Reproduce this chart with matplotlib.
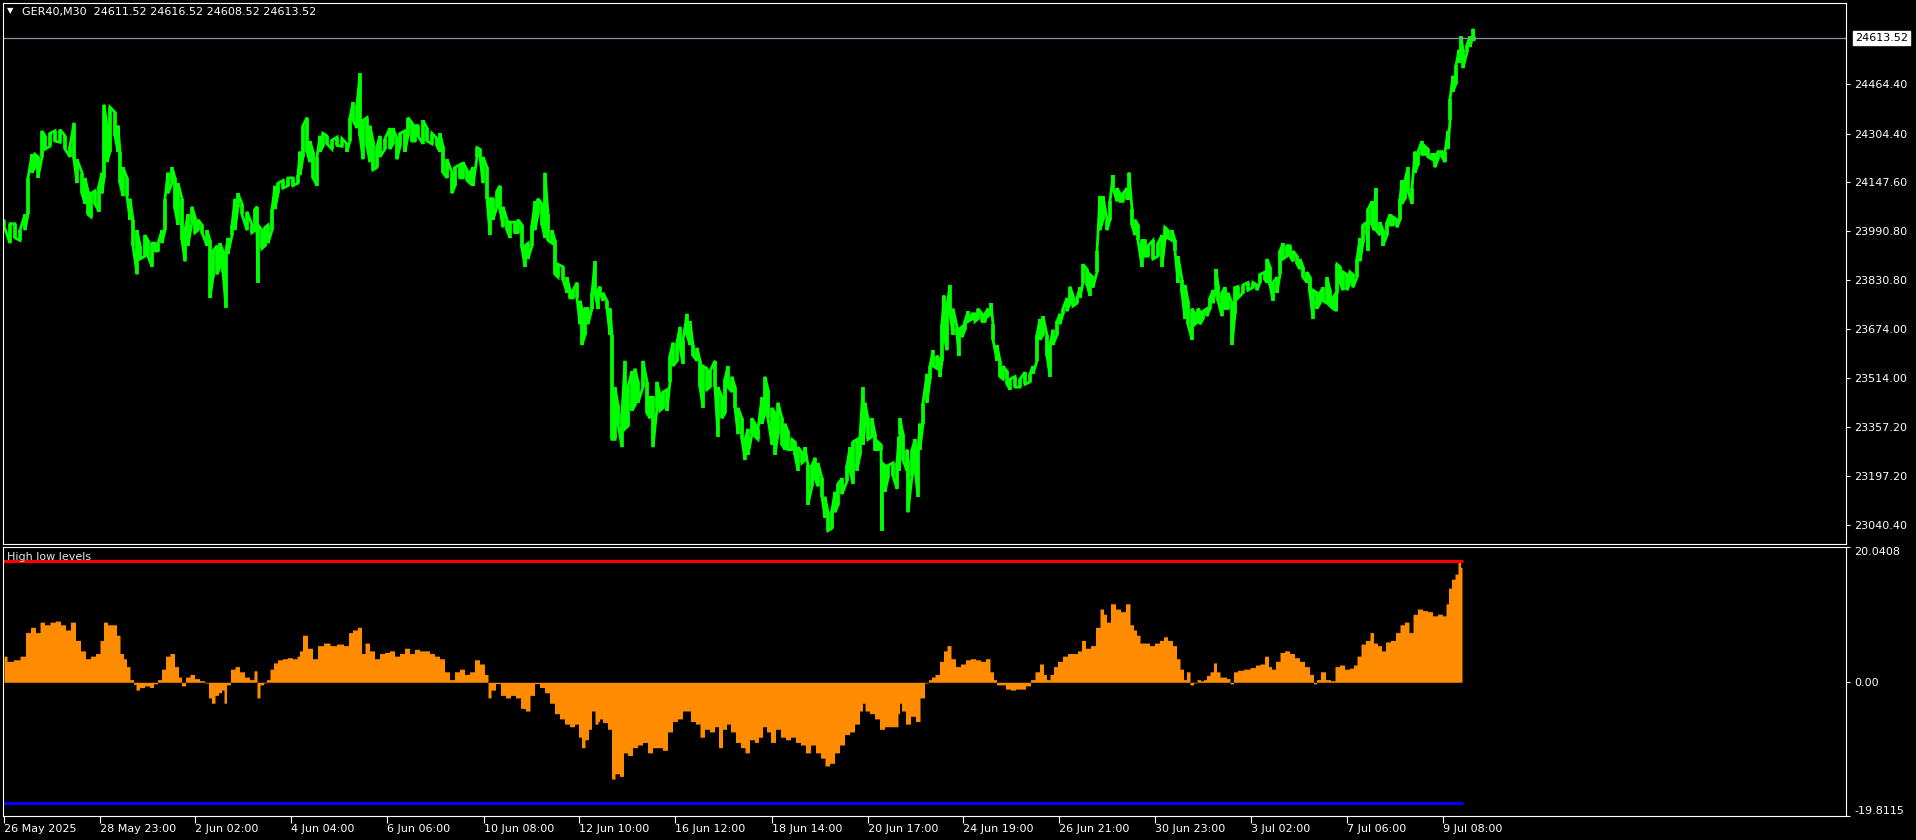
import numpy as np
import matplotlib
matplotlib.use("Agg")
import matplotlib.pyplot as plt

# GER40 M30 bars: bar number (1 bar = 1 px), high, low
bar_no = [0, 6, 11, 16, 21, 24, 28, 31, 34, 38, 41, 46, 51, 56, 61, 66, 70, 73, 78, 81,
          84, 87, 91, 95, 98, 100, 103, 106, 111, 114, 116, 119, 123, 126, 129, 133, 136, 141, 144, 148,
          151, 154, 158, 161, 164, 168, 171, 174, 178, 181, 184, 188, 191, 194, 198, 203, 206, 209, 213, 216,
          219, 222, 224, 228, 231, 234, 238, 243, 248, 251, 253, 254, 258, 261, 264, 268, 271, 274, 279, 284,
          289, 294,
          296, 299, 303, 306, 309, 313, 316, 319, 323, 328, 333, 338, 343, 346, 349, 353, 356, 359, 363, 366,
          369, 373, 376, 381, 386, 389, 393, 396, 401, 404, 408, 411, 414, 419, 423, 428, 433, 436, 439, 443,
          448, 451, 456, 459, 463, 466, 469, 473, 476, 479, 483, 486, 489, 493, 496, 499, 503, 506, 511, 514,
          518, 521, 524, 528, 531, 534, 538, 541, 544, 548, 551, 554, 559, 563, 566, 569, 573, 576, 578, 581,
          584, 588, 591, 594,
          596, 599, 603, 606, 608, 611, 614, 618, 621, 624, 628, 631, 634, 639, 643, 646, 649, 653, 656, 659,
          663, 666, 669, 673, 676, 679, 683, 686, 689, 693, 696, 699, 703, 706, 711, 714, 718, 721, 724, 728,
          731, 734, 738, 741, 744, 748, 751, 754, 758, 761, 764, 768, 771, 774, 778, 781, 784, 788, 791, 794,
          798, 801, 804, 808, 811, 814, 818, 821, 824, 828, 831, 834, 838, 843, 846, 849, 853, 856, 859, 861,
          864, 868, 871, 874, 877, 878, 881, 884, 889, 893, 895,
          896, 899, 903, 904, 908, 911, 914, 916, 919, 923, 926, 929, 933, 936, 938, 940, 943, 946, 949, 953,
          955, 958, 961, 964, 968, 971, 974, 978, 981, 984, 987, 989, 993, 996, 999, 1003, 1006, 1011, 1016, 1021,
          1026, 1029, 1033, 1036, 1039, 1043, 1046, 1049, 1053, 1056, 1059, 1063, 1066, 1069, 1073, 1076, 1079, 1083, 1086, 1089,
          1093, 1096, 1099, 1103, 1106, 1109, 1113, 1116, 1119, 1123, 1125, 1128, 1131, 1134, 1138, 1141, 1144, 1149, 1154, 1158,
          1161, 1164, 1168, 1171, 1174, 1178, 1181, 1184, 1188, 1191, 1194,
          1196, 1199, 1203, 1206, 1209, 1212, 1214, 1218, 1221, 1224, 1228, 1231, 1234, 1239, 1244, 1249, 1253, 1256, 1261, 1263,
          1266, 1269, 1273, 1276, 1279, 1283, 1286, 1289, 1293, 1296, 1299, 1303, 1306, 1309, 1313, 1316, 1319, 1323, 1326, 1329,
          1332, 1333, 1336, 1339, 1343, 1346, 1349, 1353, 1356, 1359, 1363, 1364, 1368, 1370, 1372, 1376, 1379, 1383, 1386, 1389,
          1393, 1396, 1398, 1401, 1404, 1408, 1411, 1414, 1418, 1421, 1424, 1428, 1431, 1434, 1438, 1441, 1444, 1446, 1449, 1452,
          1455, 1457, 1459, 1463, 1466, 1469, 1470]

price_high = [24024, 24014, 24014, 23993, 24044, 24162, 24238, 24238, 24230, 24314, 24298, 24306, 24314, 24318, 24298, 24264, 24340, 24222, 24179, 24162,
              24120, 24112, 24120, 24137, 24179, 24399, 24331, 24391, 24374, 24331, 24247, 24196, 24162, 24095, 24027, 23993, 23943, 23977, 23960, 23951,
              23951, 23951, 23993, 24095, 24179, 24196, 24162, 24145, 24095, 23993, 24044, 24069, 24036, 24027, 24010, 23993, 23960, 23926, 23943, 23951,
              23926, 23926, 23968, 24010, 24095, 24112, 24078, 24053, 24010, 24061, 24069, 24010, 23993, 24002, 24010, 24061, 24137, 24145, 24154, 24162,
              24162, 24171,
              24247, 24331, 24357, 24281, 24247, 24230, 24298, 24306, 24298, 24284, 24294, 24289, 24272, 24357, 24407, 24399, 24500, 24348, 24357, 24331,
              24281, 24264, 24298, 24289, 24323, 24323, 24289, 24306, 24314, 24357, 24340, 24331, 24331, 24348, 24323, 24306, 24289, 24306, 24264, 24222,
              24179, 24196, 24205, 24213, 24188, 24179, 24196, 24260, 24255, 24230, 24196, 24095, 24095, 24120, 24137, 24069, 24027, 24019, 24019, 24027,
              24010, 23943, 23951, 24010, 24086, 24095, 24078, 24179, 24044, 23993, 23960, 23883, 23875, 23841, 23799, 23799, 23824, 23765, 23740, 23740,
              23740, 23791, 23892, 23799,
              23811, 23791, 23765, 23740, 23655, 23486, 23427, 23402, 23571, 23486, 23537, 23546, 23503, 23571, 23503, 23453, 23453, 23503, 23461, 23470,
              23478, 23588, 23630, 23630, 23681, 23639, 23723, 23698, 23622, 23613, 23571, 23554, 23546, 23537, 23571, 23486, 23453, 23512, 23554, 23520,
              23486, 23419, 23385, 23317, 23351, 23385, 23368, 23351, 23453, 23520, 23478, 23419, 23402, 23436, 23385, 23368, 23343, 23317, 23309, 23292,
              23275, 23292, 23233, 23233, 23258, 23241, 23191, 23132, 23081, 23089, 23148, 23174, 23191, 23233, 23292, 23309, 23317, 23326, 23486, 23436,
              23385, 23385, 23334, 23309, 23300, 23241, 23233, 23233, 23241, 23241, 23326,
              23385, 23334, 23284, 23250, 23284, 23317, 23284, 23368, 23436, 23529, 23554, 23605, 23588, 23571, 23689, 23782, 23748, 23816, 23740, 23681,
              23672, 23681, 23698, 23731, 23723, 23723, 23740, 23723, 23723, 23740, 23757, 23689, 23622, 23571, 23554, 23537, 23512, 23520, 23512, 23534,
              23529, 23554, 23655, 23706, 23715, 23655, 23622, 23672, 23698, 23723, 23740, 23774, 23811, 23782, 23774, 23808, 23883, 23867, 23850, 23841,
              23926, 24103, 24103, 24027, 24086, 24171, 24129, 24112, 24112, 24129, 24179, 24061, 24027, 24010, 23960, 23960, 23943, 23960, 23951, 23977,
              24002, 23993, 23993, 23960, 23909, 23833, 23816, 23765, 23740, 23723, 23740,
              23731, 23731, 23740, 23774, 23799, 23867, 23816, 23791, 23808, 23791, 23757, 23808, 23811, 23816, 23824, 23824, 23816, 23850, 23858, 23900,
              23875, 23824, 23841, 23926, 23951, 23943, 23943, 23926, 23909, 23900, 23875, 23858, 23841, 23799, 23791, 23791, 23808, 23841, 23799, 23774,
              23791, 23883, 23875, 23858, 23850, 23858, 23850, 23900, 23968, 24010, 24019, 24061, 24086, 24044, 24129, 24019, 23993, 24019, 24044, 24036,
              24027, 24095, 24154, 24154, 24196, 24129, 24247, 24247, 24281, 24264, 24255, 24238, 24238, 24247, 24247, 24247, 24314, 24416, 24492, 24526,
              24576, 24619, 24576, 24593, 24619, 24644, 24617]

price_low = [24007, 23951, 23968, 23960, 23993, 24044, 24179, 24196, 24162, 24230, 24255, 24264, 24281, 24277, 24255, 24230, 24222, 24145, 24112, 24078,
             24044, 24036, 24078, 24053, 24112, 24162, 24213, 24247, 24298, 24247, 24145, 24103, 24103, 24027, 23943, 23850, 23900, 23909, 23909, 23875,
             23926, 23926, 23951, 23993, 24112, 24145, 24061, 24010, 23960, 23892, 23943, 24019, 23985, 23993, 23985, 23943, 23774, 23841, 23850, 23875,
             23858, 23743, 23917, 23977, 23993, 24069, 24044, 23993, 23985, 23993, 23993, 23824, 23934, 23943, 23951, 23993, 24061, 24112, 24129, 24137,
             24137, 24145,
             24171, 24230, 24247, 24213, 24162, 24137, 24247, 24264, 24272, 24255, 24267, 24264, 24247, 24281, 24348, 24323, 24298, 24222, 24264, 24213,
             24188, 24196, 24230, 24255, 24255, 24272, 24222, 24264, 24247, 24298, 24281, 24281, 24298, 24272, 24281, 24272, 24264, 24247, 24179, 24162,
             24112, 24137, 24162, 24162, 24154, 24145, 24137, 24230, 24230, 24145, 24095, 23977, 24027, 24069, 24061, 24002, 23993, 23968, 23985, 23985,
             23934, 23875, 23900, 23943, 23993, 24044, 24010, 23968, 23960, 23951, 23850, 23841, 23833, 23791, 23774, 23774, 23774, 23689, 23622, 23655,
             23689, 23740, 23791, 23740,
             23791, 23765, 23740, 23655, 23317, 23317, 23368, 23292, 23351, 23360, 23410, 23427, 23436, 23486, 23402, 23385, 23292, 23419, 23410, 23419,
             23410, 23503, 23554, 23571, 23613, 23562, 23655, 23622, 23588, 23571, 23486, 23419, 23478, 23486, 23486, 23326, 23385, 23402, 23486, 23470,
             23419, 23334, 23317, 23250, 23267, 23334, 23326, 23317, 23368, 23402, 23385, 23300, 23267, 23334, 23300, 23284, 23284, 23284, 23267, 23216,
             23241, 23250, 23106, 23165, 23191, 23165, 23132, 23064, 23022, 23030, 23081, 23106, 23140, 23182, 23216, 23174, 23216, 23267, 23300, 23368,
             23317, 23326, 23284, 23284, 23284, 23022, 23148, 23191, 23199, 23157, 23216,
             23334, 23250, 23216, 23081, 23199, 23224, 23132, 23284, 23368, 23436, 23512, 23554, 23546, 23520, 23571, 23655, 23605, 23723, 23655, 23655,
             23588, 23647, 23672, 23698, 23706, 23698, 23706, 23698, 23698, 23715, 23723, 23639, 23571, 23520, 23512, 23495, 23478, 23486, 23486, 23495,
             23503, 23529, 23571, 23639, 23655, 23588, 23520, 23622, 23655, 23689, 23723, 23731, 23757, 23748, 23757, 23774, 23824, 23816, 23782, 23808,
             23858, 23993, 24027, 23993, 24027, 24129, 24086, 24086, 24086, 24095, 24095, 24010, 23977, 23960, 23875, 23909, 23909, 23900, 23909, 23875,
             23960, 23968, 23960, 23926, 23824, 23791, 23706, 23689, 23639, 23689, 23698,
             23689, 23706, 23715, 23740, 23757, 23808, 23765, 23715, 23740, 23740, 23622, 23723, 23774, 23791, 23799, 23808, 23799, 23824, 23833, 23824,
             23816, 23765, 23791, 23850, 23900, 23909, 23909, 23892, 23883, 23867, 23841, 23824, 23791, 23706, 23740, 23757, 23765, 23757, 23748, 23740,
             23731, 23791, 23824, 23799, 23799, 23824, 23808, 23841, 23892, 23951, 23977, 23926, 24010, 23993, 23993, 23977, 23943, 23977, 24010, 24010,
             24002, 24027, 24078, 24095, 24120, 24078, 24179, 24205, 24238, 24238, 24230, 24222, 24196, 24222, 24230, 24213, 24255, 24348, 24441, 24467,
             24534, 24551, 24517, 24568, 24585, 24619, 24609]

last_close = 24613.52
ohlc_text = "GER40,M30  24611.52 24616.52 24608.52 24613.52"
price_ticks = [24464.40, 24304.40, 24147.60, 23990.80, 23830.80, 23674.00,
               23514.00, 23357.20, 23197.20, 23040.40]

# "High low levels" indicator histogram
ind_bar = [0, 6, 13, 19, 24, 29, 34, 38, 43, 49, 54, 59, 64, 69, 74, 79, 84, 89, 94, 98,
           101, 106, 111, 114, 118, 121, 124, 128, 131, 133, 138, 143, 148, 151, 156, 159, 164, 168, 173, 176,
           179, 184, 188, 193, 198, 203, 206, 209, 213, 216, 219, 221, 224, 229, 233, 238, 243, 248, 252, 254,
           258, 261, 264, 268, 271, 276, 281, 286, 291, 295,
           296, 301, 306, 311, 316, 323, 329, 336, 343, 346, 351, 356, 359, 363, 368, 373, 378, 383, 388, 393,
           398, 403, 408, 413, 418, 423, 428, 433, 438, 443, 448, 453, 458, 463, 468, 473, 478, 483, 485, 489,
           494, 499, 504, 509, 514, 519, 524, 528, 533, 538, 543, 548, 553, 558, 563, 568, 573, 576, 579, 583,
           586, 589, 593, 595,
           596, 601, 606, 609, 613, 618, 621, 626, 631, 636, 641, 646, 651, 656, 661, 666, 671, 676, 681, 684,
           689, 694, 698, 703, 708, 713, 716, 721, 724, 729, 734, 739, 743, 748, 753, 756, 761, 764, 769, 774,
           779, 784, 789, 794, 799, 804, 809, 814, 819, 823, 828, 833, 838, 843, 848, 853, 858, 859, 863, 868,
           873, 878, 883, 888, 893, 895,
           896, 899, 904, 909, 914, 918, 923, 926, 929, 933, 938, 941, 945, 949, 954, 959, 964, 969, 974, 979,
           984, 988, 991, 994, 999, 1004, 1009, 1014, 1019, 1024, 1029, 1033, 1038, 1041, 1044, 1048, 1051, 1056, 1061, 1066,
           1071, 1076, 1079, 1084, 1089, 1094, 1098, 1101, 1104, 1109, 1114, 1119, 1124, 1128, 1131, 1134, 1138, 1143, 1148, 1153,
           1158, 1161, 1166, 1171, 1174, 1178, 1181, 1184, 1188, 1191, 1195,
           1198, 1201, 1204, 1208, 1211, 1214, 1218, 1221, 1224, 1228, 1231, 1236, 1243, 1249, 1254, 1258, 1263, 1266, 1269, 1274,
           1278, 1283, 1288, 1293, 1298, 1303, 1308, 1311, 1314, 1319, 1324, 1329, 1333, 1338, 1343, 1348, 1351, 1355, 1359, 1364,
           1368, 1371, 1376, 1379, 1384, 1389, 1394, 1398, 1403, 1407, 1411, 1416, 1421, 1426, 1431, 1436, 1441, 1443, 1446, 1449,
           1453, 1455, 1458]

ind_val = [3.87, 3.10, 3.33, 3.87, 7.36, 8.14, 7.36, 8.91, 8.52, 8.91, 9.07, 8.52, 7.75, 8.91, 6.20, 4.65, 3.49, 3.87, 4.26, 6.20,
           8.91, 8.52, 8.52, 6.97, 4.26, 3.49, 2.32, 0.39, -0.30, -1.16, -0.77, -0.54, -0.77, -0.23, 0.39, 1.94, 3.87, 4.26, 2.32, 0.77,
           -0.54, 0.77, 1.16, 0.54, 0.23, -0.10, -2.32, -3.10, -1.94, -1.55, -1.16, -3.10, -0.39, 1.94, 2.32, 1.55, 0.77, 0.39, 1.70, -2.32,
           -0.39, -0.10, 0.39, 1.94, 2.87, 3.33, 3.49, 3.64, 3.49, 3.87,
           4.65, 6.97, 5.04, 3.49, 5.43, 5.81, 5.43, 5.66, 5.43, 7.36, 7.75, 8.14, 4.26, 5.81, 4.65, 3.49, 4.26, 4.42, 4.65, 3.87,
           4.26, 5.04, 4.26, 4.88, 4.65, 4.65, 4.26, 3.87, 3.49, 1.55, 0.39, 1.55, 1.94, 1.16, 1.55, 3.33, 2.71, 1.16, -2.32, -1.16,
           -0.20, -1.94, -2.32, -1.94, -2.32, -3.87, -4.26, -1.94, -0.20, -0.77, -1.55, -3.10, -4.65, -5.43, -6.20, -6.59, -6.20, -8.14, -9.69, -8.52,
           -6.97, -4.26, -6.20, -5.81,
           -5.43, -5.97, -6.97, -14.34, -13.56, -13.95, -10.46, -10.85, -9.69, -9.30, -8.91, -10.46, -9.69, -9.69, -10.08, -7.36, -5.81, -5.43, -4.26, -4.26,
           -5.81, -6.20, -8.14, -6.97, -7.36, -6.59, -9.69, -6.97, -6.20, -7.36, -8.91, -9.69, -10.46, -8.52, -8.91, -8.14, -6.59, -7.36, -8.91, -6.97,
           -8.14, -8.52, -8.14, -8.91, -9.30, -10.46, -9.30, -10.46, -11.24, -12.40, -12.01, -10.46, -9.30, -7.75, -7.36, -6.20, -4.26, -3.10, -4.26, -4.65,
           -5.43, -6.97, -6.59, -6.59, -6.59, -4.65,
           -3.10, -4.26, -6.20, -5.04, -5.81, -2.32, -0.10, 0.39, 0.77, 1.16, 3.10, 4.65, 5.43, 3.49, 2.32, 2.71, 3.33, 3.49, 3.33, 3.10,
           3.49, 1.55, 0.39, -0.39, -0.39, -1.01, -1.16, -1.01, -1.01, -0.54, 0.39, 1.55, 2.71, 1.16, 0.39, 1.16, 2.32, 3.10, 3.87, 4.26,
           4.26, 4.65, 6.20, 5.04, 5.43, 8.14, 10.85, 10.08, 8.91, 11.63, 10.85, 10.46, 11.63, 8.52, 7.75, 6.97, 5.81, 5.81, 5.43, 5.81,
           6.20, 6.74, 6.20, 5.43, 3.49, 1.94, 0.39, 1.55, -0.39, -0.10, 0.39,
           0.23, 0.39, 1.01, 1.55, 2.87, 1.55, 0.77, 0.77, 0.54, -0.23, 1.55, 1.78, 1.94, 2.17, 2.56, 2.71, 3.87, 2.32, 1.94, 3.10,
           4.42, 4.65, 4.26, 3.64, 3.10, 2.32, 1.16, -0.23, 0.39, 1.55, 0.39, 0.23, 2.32, 2.56, 1.94, 2.09, 2.56, 3.87, 5.66, 6.20,
           7.36, 5.81, 5.43, 4.65, 5.97, 6.20, 7.36, 8.52, 8.91, 7.36, 10.08, 10.85, 10.62, 10.46, 9.84, 10.08, 9.84, 11.63, 13.95, 15.27,
           16.04, 17.90, 17.05]

high_level = 17.98
low_level = -17.82
ind_range = (-19.8115, 20.0408)
ind_ticks = [20.0408, 0.0, -19.8115]
ind_tick_labels = ["20.0408", "0.00", "-19.8115"]

# time axis labels and the bar they sit on
date_bars = [0, 96, 191, 287, 383, 480, 575, 671, 768, 864, 959, 1055, 1151, 1247, 1343, 1439]
date_labels = ["26 May 2025", "28 May 23:00", "2 Jun 02:00", "4 Jun 04:00", "6 Jun 06:00",
               "10 Jun 08:00", "12 Jun 10:00", "16 Jun 12:00", "18 Jun 14:00", "20 Jun 17:00",
               "24 Jun 19:00", "26 Jun 21:00", "30 Jun 23:00", "3 Jul 02:00", "7 Jul 06:00", "9 Jul 08:00"]

W, H = 1916, 840
fig = plt.figure(figsize=(W / 100, H / 100), dpi=100, facecolor="black")
ax = fig.add_axes([3 / W, 1 - 544 / H, 1843 / W, 541.4 / H], facecolor="black")
ax2 = fig.add_axes([3 / W, 1 - 816 / H, 1843 / W, 269 / H], facecolor="black")

# price window: each sample drawn as a high-low bar, joined in a zigzag like dense MT4 bars
zx = np.repeat(bar_no, 2)
zy = np.column_stack([price_high, price_low]).ravel()
zy[2::4], zy[3::4] = np.array(price_low)[1::2], np.array(price_high)[1::2]
ax.plot(zx, zy, color="#00ff00", lw=2.0, solid_joinstyle="miter")
ax.vlines(bar_no, price_low, price_high, color="#00ff00", lw=2.6)
ax.axhline(last_close, color="#8796a6", lw=0.9)
ax.set_xlim(-1, 1842)
ax.set_ylim(22979, 24728.5)
ax.yaxis.tick_right()
ax.set_yticks(price_ticks)
ax.set_yticklabels(["%.2f" % v for v in price_ticks])
ax.tick_params(axis="y", colors="white", length=3, width=0.8, pad=3, labelsize=8)
ax.tick_params(axis="x", bottom=False, labelbottom=False)
ax.annotate("%.2f" % last_close, xy=(1, last_close), xycoords=("axes fraction", "data"),
            xytext=(9, 0), textcoords="offset pixels", ha="left", va="center",
            fontsize=8, color="black", annotation_clip=False,
            bbox=dict(boxstyle="square,pad=0.2", fc="white", ec="white"))

fig.text(7 / W, 1 - 11 / H, "\u25bc", color="white", fontsize=6, va="center", ha="left")
fig.text(22 / W, 1 - 12.5 / H, ohlc_text, color="white", fontsize=8, va="center", ha="left")

# indicator window
ax2.fill_between(ind_bar, 0, ind_val, step="mid", color="#ff8c00", lw=0)
ax2.hlines(high_level, -1, ind_bar[-1] + 1, color="#ff0000", lw=2.3)
ax2.hlines(low_level, -1, ind_bar[-1] + 1, color="#0000ff", lw=2.3)
ax2.set_xlim(-1, 1842)
ax2.set_ylim(*ind_range)
ax2.yaxis.tick_right()
ax2.set_yticks(ind_ticks)
ax2.set_yticklabels(ind_tick_labels)
ax2.tick_params(axis="y", colors="white", length=3, width=0.8, pad=3, labelsize=8)
labs = ax2.get_yticklabels()
labs[0].set_va("top")
labs[2].set_va("bottom")
ax2.set_xticks(date_bars)
ax2.set_xticklabels(date_labels, ha="left")
ax2.tick_params(axis="x", colors="white", length=5, width=0.8, pad=1, labelsize=8)
fig.text(7 / W, 1 - 557 / H, "High low levels", color="#e6e6e6", fontsize=8, va="center", ha="left")

for a in (ax, ax2):
    for s in a.spines.values():
        s.set_color("white")
        s.set_linewidth(0.8)

plt.savefig("out.png", dpi=100, facecolor="black")
plt.close()
